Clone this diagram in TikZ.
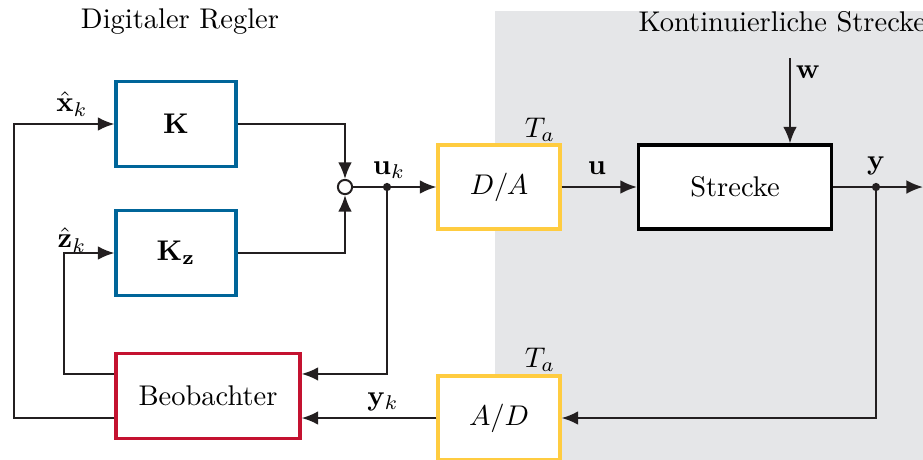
\documentclass[tikz,border=0pt]{standalone}
\usetikzlibrary{arrows.meta,calc}
\definecolor{cblue}{RGB}{0,101,153}
\definecolor{cred}{RGB}{196,18,48}
\definecolor{cyellow}{RGB}{255,204,64}
\definecolor{bggray}{RGB}{229,230,232}
\definecolor{lineblk}{RGB}{35,31,32}
\tikzset{
  blk/.style={draw, line width=1.15pt, fill=white, inner sep=0pt, minimum width=42.1pt, minimum height=29.8pt},
  conn/.style={line width=0.7pt, draw=lineblk},
  arr/.style={conn, -{Latex[length=5.8pt,width=4.8pt]}},
  junct/.style={circle, fill=lineblk, inner sep=0pt, minimum size=2.9pt},
  lbl/.style={inner sep=0pt}
}
\begin{document}
\begin{tikzpicture}[x=0.351pt,y=-0.351pt]
\path[use as bounding box] (0,0) rectangle (923,459);
\clip (0,0) rectangle (923,459);
\fill[bggray] (495,11) rectangle (940,480);
\node[lbl] (t1) at (180,22) {Digitaler Regler};
\node[lbl, anchor=west] (t2) at (638,22) {Kontinuierliche Strecke};
% blocks
\node[blk, draw=cblue] (K) at (176,124) {$\mathbf{K}$};
\node[blk, draw=cblue] (Kz) at (176,253) {$\mathbf{K_z}$};
\node[blk, draw=cyellow, minimum width=42.8pt, minimum height=29.5pt] (DA) at (499,187) {$D/A$};
\node[blk, draw=black, minimum width=67.7pt, minimum height=29.5pt] (S) at (735,187) {Strecke};
\node[blk, draw=cred, minimum width=64.6pt] (B) at (208,396) {Beobachter};
\node[blk, draw=cyellow, minimum width=42.8pt, minimum height=29.5pt] (AD) at (499,418) {$A/D$};
\node[circle, draw=lineblk, line width=0.7pt, fill=white, inner sep=0pt, minimum size=5pt] (sum) at (345,187) {};
% coordinates
\coordinate (uk) at (387,187);
\coordinate (yd) at (876,187);
\coordinate (yend) at (923,187);
\coordinate (wtop) at (790,58);
\coordinate (zc) at (64,0);
\coordinate (xc) at (14,0);
% connectors
\draw[arr] (K.east) -| (sum.north);
\draw[arr] (Kz.east) -| (sum.south);
\draw[arr] (sum.east) -- (DA.west);
\draw[arr] (uk) |- ($(B.north east)!0.25!(B.south east)$);
\draw[arr] ($(B.north west)!0.25!(B.south west)$) -| (zc |- Kz.west) -- (Kz.west);
\draw[arr] (AD.west) -- (AD.west -| B.east);
\draw[arr] ($(B.north west)!0.75!(B.south west)$) -| (xc |- K.west) -- (K.west);
\draw[arr] (DA.east) -- (S.west);
\draw[arr] (wtop) -- (wtop |- S.north);
\draw[arr] (S.east) -- (yend);
\draw[arr] (yd) |- (AD.east);
\node[junct] (ukdot) at (uk) {};
\node[junct] (ydot) at (yd) {};
% labels
\node[lbl] (lx) at (72,104) {$\hat{\mathbf{x}}_k$};
\node[lbl] (lz) at (72,240) {$\hat{\mathbf{z}}_k$};
\node[lbl] (luk) at (389,170) {$\mathbf{u}_k$};
\node[lbl] (lta1) at (540,130) {$T_a$};
\node[lbl] (lu) at (597,168) {$\mathbf{u}$};
\node[lbl] (lw) at (808,72) {$\mathbf{w}$};
\node[lbl] (ly) at (876,166) {$\mathbf{y}$};
\node[lbl] (lta2) at (540,360) {$T_a$};
\node[lbl] (lyk) at (383,402) {$\mathbf{y}_k$};
\end{tikzpicture}
\end{document}
